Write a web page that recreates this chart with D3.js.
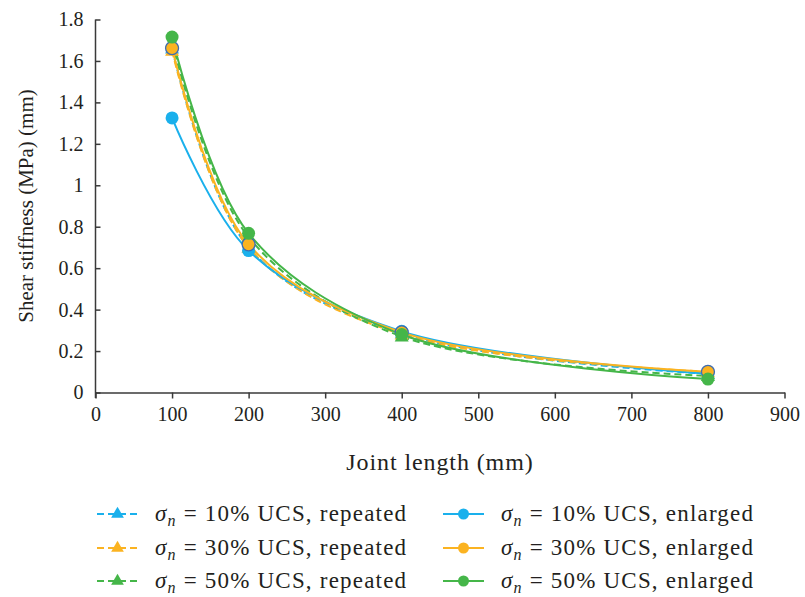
<!DOCTYPE html>
<html><head><meta charset="utf-8">
<script src="https://cdn.jsdelivr.net/npm/d3@7/dist/d3.min.js"></script>
<style>body{margin:0;background:#fff}svg{display:block}</style>
</head><body><svg id="c" width="805" height="597"></svg>
<script>
const jointLength = [100, 200, 400, 800];
const xTicks = [0,100,200,300,400,500,600,700,800,900];
const yTicks = [0,0.2,0.4,0.6,0.8,1,1.2,1.4,1.6,1.8];
const rep10 = [1.66, 0.70, 0.285, 0.09];
const rep30 = [1.65, 0.70, 0.28, 0.10];
const rep50 = [1.69, 0.75, 0.27, 0.08];
const enl10 = [1.325, 0.685, 0.295, 0.09];
const enl30 = [1.662, 0.715, 0.29, 0.10];
const enl50 = [1.715, 0.768, 0.28, 0.065];
const seriesNames = ["10%","30%","50%"];
const colors = ["#1ab0ec","#fbb321","#45b649"];
const FONT = "'Liberation Serif', 'DejaVu Serif', 'Times New Roman', serif";
const TXT = "#231f20";

const svg = d3.select("#c");
const x = d3.scaleLinear().domain([0,900]).range([95.5,784.5]);
const y = d3.scaleLinear().domain([0,1.8]).range([392.5,19.5]);
const axisColor = "#3a3a3a";

const xa = svg.append("g").attr("transform","translate(0,392.5)")
  .call(d3.axisBottom(x).tickValues(xTicks).tickSize(6).tickSizeOuter(0).tickFormat(d3.format("d")));
xa.selectAll("text").attr("font-size",20).attr("y",14).attr("dy","0.71em");
const ya = svg.append("g").attr("transform","translate(95.5,0)")
  .call(d3.axisLeft(y).tickValues(yTicks).tickSize(-5).tickSizeOuter(0).tickFormat(d=>d===0?"0":d===1?"1":d3.format(".1f")(d)));
ya.selectAll("text").attr("font-size",20).attr("x",-12);
ya.select(".domain").attr("d","M0,19.5V398");
[xa,ya].forEach(a=>{a.attr("font-family",FONT);a.selectAll("line,path").attr("stroke",axisColor).attr("stroke-width",1.5);a.selectAll("text").style("fill",TXT);});

svg.append("text").attr("x",440).attr("y",470).attr("text-anchor","middle").attr("font-size",24).attr("letter-spacing",0.9).attr("font-family",FONT).attr("fill",TXT).text("Joint length (mm)");
svg.append("text").attr("transform","translate(33,206) rotate(-90)").attr("text-anchor","middle").attr("font-size",21).attr("font-family",FONT).attr("fill",TXT).text("Shear stiffness (MPa) (mm)");

const line = d3.line().x(d=>x(d[0])).y(d=>y(d[1])).curve(d3.curveCatmullRom.alpha(0.5));
const rep = [rep10,rep30,rep50], enl=[enl10,enl30,enl50];
const tri = d3.symbol().type(d3.symbolTriangle).size(85);

const g = svg.append("g");
rep.forEach((vals,i)=>{
  const pts = jointLength.map((L,j)=>[L,vals[j]]);
  g.append("path").attr("d",line(pts)).attr("fill","none").attr("stroke",colors[i]).attr("stroke-width",2).attr("stroke-dasharray","7,4");
});
enl.forEach((vals,i)=>{
  const pts = jointLength.map((L,j)=>[L,vals[j]]);
  g.append("path").attr("d",line(pts)).attr("fill","none").attr("stroke",colors[i]).attr("stroke-width",2);
});
rep.forEach((vals,i)=>{
  jointLength.forEach((L,j)=>g.append("path").attr("d",tri).attr("transform",`translate(${x(L)},${y(vals[j])+1})`).attr("fill",colors[i]));
});
enl.forEach((vals,i)=>{
  jointLength.forEach((L,j)=>g.append("circle").attr("cx",x(L)).attr("cy",y(vals[j])).attr("r",6.5).attr("fill",colors[i])
    .attr("stroke",i===1?"#3d6cb3":"none").attr("stroke-width",1.3));
});

const rowsY = [514,548,581];
const lg = svg.append("g");
function legendText(xp, yy, txt){
  const t = lg.append("text").attr("x",xp).attr("y",yy+7).attr("font-size",23).attr("letter-spacing",1.2).attr("font-family",FONT).attr("fill",TXT);
  t.append("tspan").attr("font-style","italic").text("σ");
  t.append("tspan").attr("font-style","italic").attr("font-size",16).attr("dy",5).text("n");
  t.append("tspan").attr("dy",-5).text(txt);
}
seriesNames.forEach((nm,i)=>{
  const yy = rowsY[i];
  lg.append("line").attr("x1",96).attr("x2",139).attr("y1",yy).attr("y2",yy).attr("stroke",colors[i]).attr("stroke-width",2).attr("stroke-dasharray","7,4").attr("stroke-dashoffset",-1);
  lg.append("path").attr("d",d3.symbol().type(d3.symbolTriangle).size(70)).attr("transform",`translate(117.5,${yy})`).attr("fill",colors[i]);
  legendText(155, yy, ` = ${nm} UCS, repeated`);
  lg.append("line").attr("x1",443).attr("x2",484).attr("y1",yy).attr("y2",yy).attr("stroke",colors[i]).attr("stroke-width",2);
  lg.append("circle").attr("cx",463.5).attr("cy",yy).attr("r",5.5).attr("fill",colors[i]);
  legendText(501, yy, ` = ${nm} UCS, enlarged`);
});
</script></body></html>
